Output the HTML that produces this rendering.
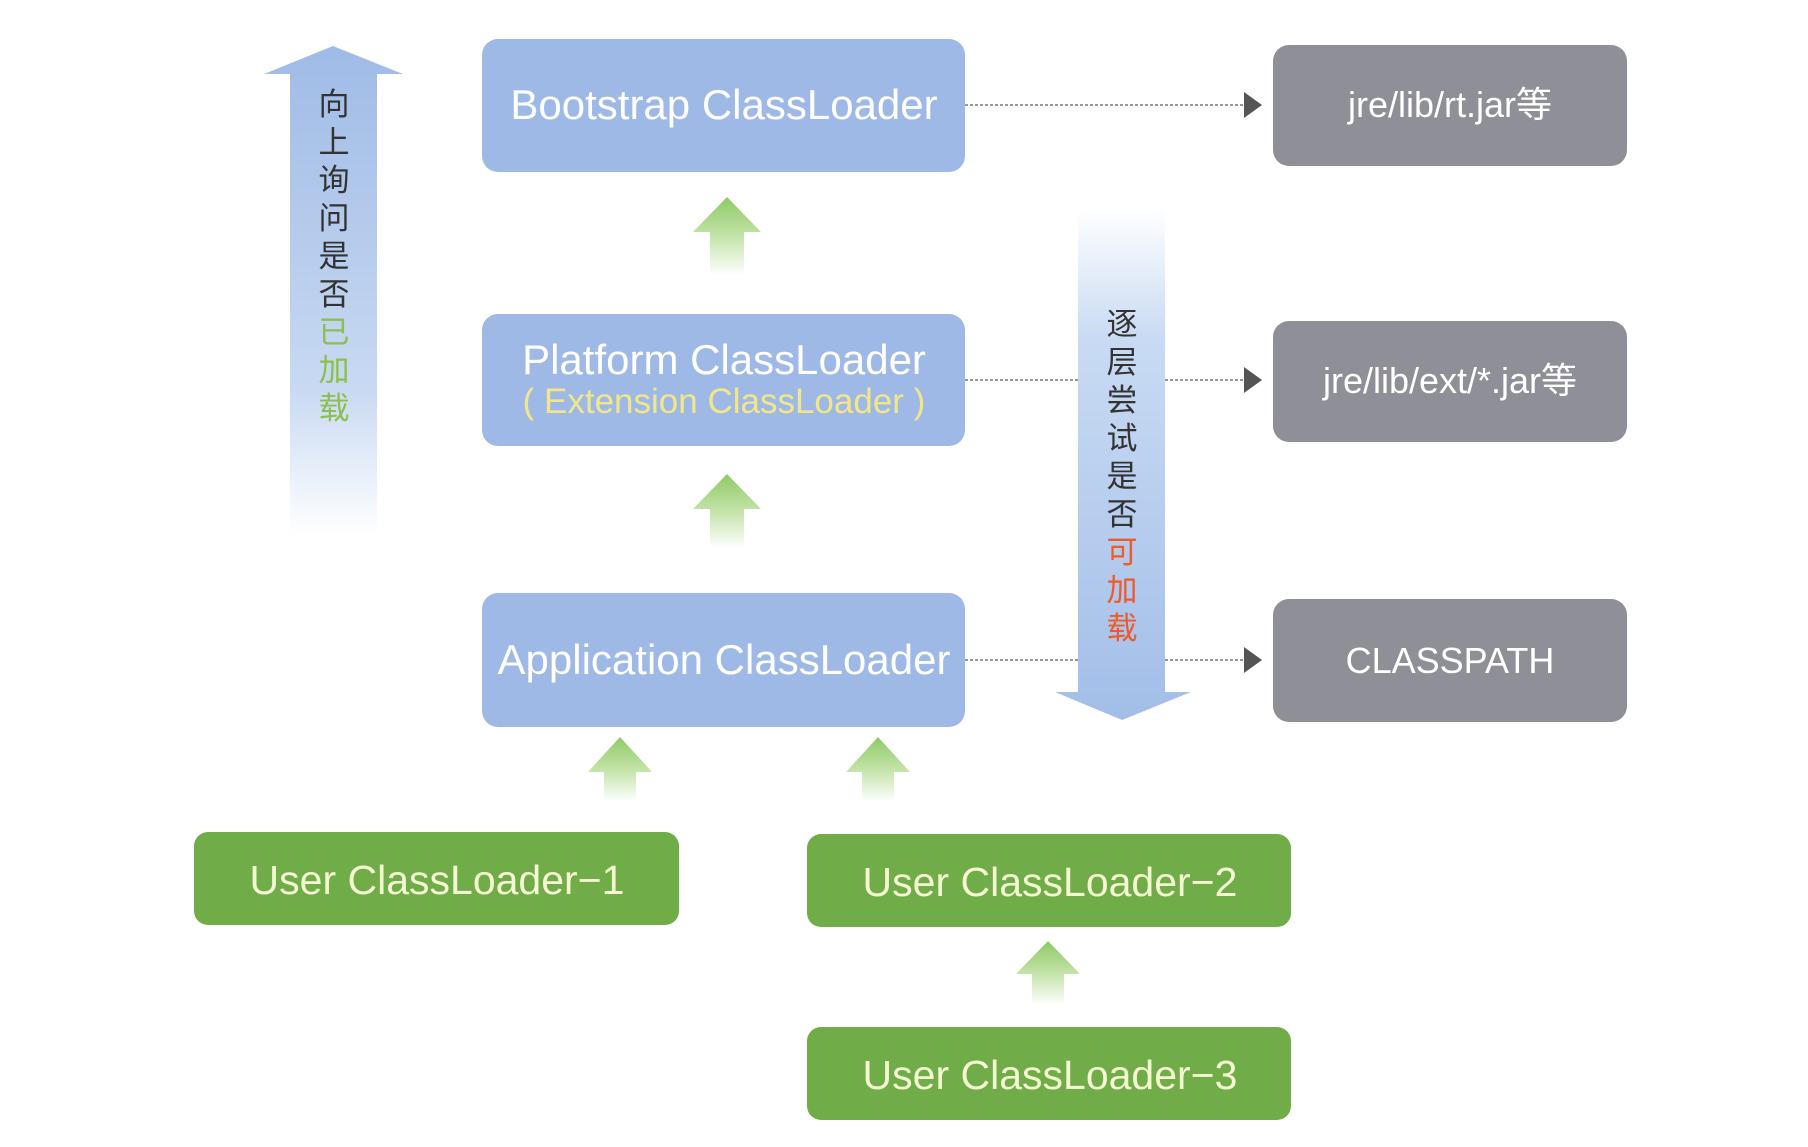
<!DOCTYPE html>
<html><head><meta charset="utf-8"><style>
body{margin:0;background:#fff;width:1808px;height:1142px;overflow:hidden;}
svg text{font-family:"Liberation Sans","Noto Sans CJK SC",sans-serif;}
</style></head><body>
<svg width="1808" height="1142" viewBox="0 0 1808 1142" xmlns="http://www.w3.org/2000/svg">
<defs>
<linearGradient id="bu" x1="0" y1="0" x2="0" y2="1">
<stop offset="0" stop-color="#9fbbe6"/><stop offset="0.7" stop-color="#c8d9f2"/><stop offset="1" stop-color="#ffffff"/></linearGradient>
<linearGradient id="bd" x1="0" y1="0" x2="0" y2="1">
<stop offset="0" stop-color="#ffffff"/><stop offset="0.25" stop-color="#c9dbf3"/><stop offset="1" stop-color="#a2bee8"/></linearGradient>
<linearGradient id="gu" x1="0" y1="0" x2="0" y2="1">
<stop offset="0" stop-color="#8fca66"/><stop offset="0.5" stop-color="#c3e3a8"/><stop offset="1" stop-color="#ffffff"/></linearGradient>
</defs>
<polygon points="333,46 403,74 377,74 377,535 290,535 290,74 264,74" fill="url(#bu)"/>
<g font-size="31" text-anchor="middle" fill="#333">
<text x="334" y="115">向</text><text x="334" y="153">上</text><text x="334" y="191">询</text><text x="334" y="229">问</text><text x="334" y="267">是</text><text x="334" y="305">否</text>
<text x="334" y="343" fill="#8cbf4e">已</text><text x="334" y="381" fill="#8cbf4e">加</text><text x="334" y="419" fill="#8cbf4e">载</text>
</g>
<g stroke="#777" stroke-width="1.5" stroke-dasharray="3,2">
<line x1="965" y1="105" x2="1246" y2="105"/>
<line x1="965" y1="380" x2="1246" y2="380"/>
<line x1="965" y1="660" x2="1246" y2="660"/>
</g>
<g fill="#555">
<polygon points="1244,92 1262,105 1244,118"/>
<polygon points="1244,367 1262,380 1244,393"/>
<polygon points="1244,647 1262,660 1244,673"/>
</g>
<polygon points="1078,209 1165,209 1165,692 1191,692 1122,720 1055,692 1078,692" fill="url(#bd)"/>
<g font-size="31" text-anchor="middle" fill="#333">
<text x="1122" y="335">逐</text><text x="1122" y="373">层</text><text x="1122" y="411">尝</text><text x="1122" y="449">试</text><text x="1122" y="487">是</text><text x="1122" y="525">否</text>
<text x="1122" y="563" fill="#ef5a2a">可</text><text x="1122" y="601" fill="#ef5a2a">加</text><text x="1122" y="639" fill="#ef5a2a">载</text>
</g>
<g fill="#9fb9e6">
<rect x="482" y="39" width="483" height="133" rx="16"/>
<rect x="482" y="314" width="483" height="132" rx="16"/>
<rect x="482" y="593" width="483" height="134" rx="16"/>
</g>
<g font-size="42" text-anchor="middle" fill="#fff">
<text x="724" y="119">Bootstrap ClassLoader</text>
<text x="724" y="374">Platform ClassLoader</text>
<text x="724" y="674">Application ClassLoader</text>
</g>
<text x="724" y="413" font-size="35" text-anchor="middle" fill="#f1e68a">( Extension ClassLoader )</text>
<g fill="#8f8f98">
<rect x="1273" y="45" width="354" height="121" rx="16"/>
<rect x="1273" y="321" width="354" height="121" rx="16"/>
<rect x="1273" y="599" width="354" height="123" rx="16"/>
</g>
<g font-size="36" text-anchor="middle" fill="#fff">
<text x="1450" y="117">jre/lib/rt.jar等</text>
<text x="1450" y="393">jre/lib/ext/*.jar等</text>
<text x="1450" y="673">CLASSPATH</text>
</g>
<g fill="url(#gu)">
<polygon points="727,197 761,232 744,232 744,275 710,275 710,232 693,232"/>
<polygon points="727,474 761,509 744,509 744,548 710,548 710,509 693,509"/>
<polygon points="620,737 652,772 636,772 636,802 604,802 604,772 588,772"/>
<polygon points="878,737 910,772 894,772 894,802 862,802 862,772 846,772"/>
<polygon points="1048,941 1080,974 1064,974 1064,1005 1032,1005 1032,974 1016,974"/>
</g>
<g fill="#70ad48">
<rect x="194" y="832" width="485" height="93" rx="14"/>
<rect x="807" y="834" width="484" height="93" rx="14"/>
<rect x="807" y="1027" width="484" height="93" rx="14"/>
</g>
<g font-size="41" text-anchor="middle" fill="#f4f7d2">
<text x="437" y="894">User ClassLoader−1</text>
<text x="1050" y="896">User ClassLoader−2</text>
<text x="1050" y="1089">User ClassLoader−3</text>
</g>
</svg>
</body></html>
